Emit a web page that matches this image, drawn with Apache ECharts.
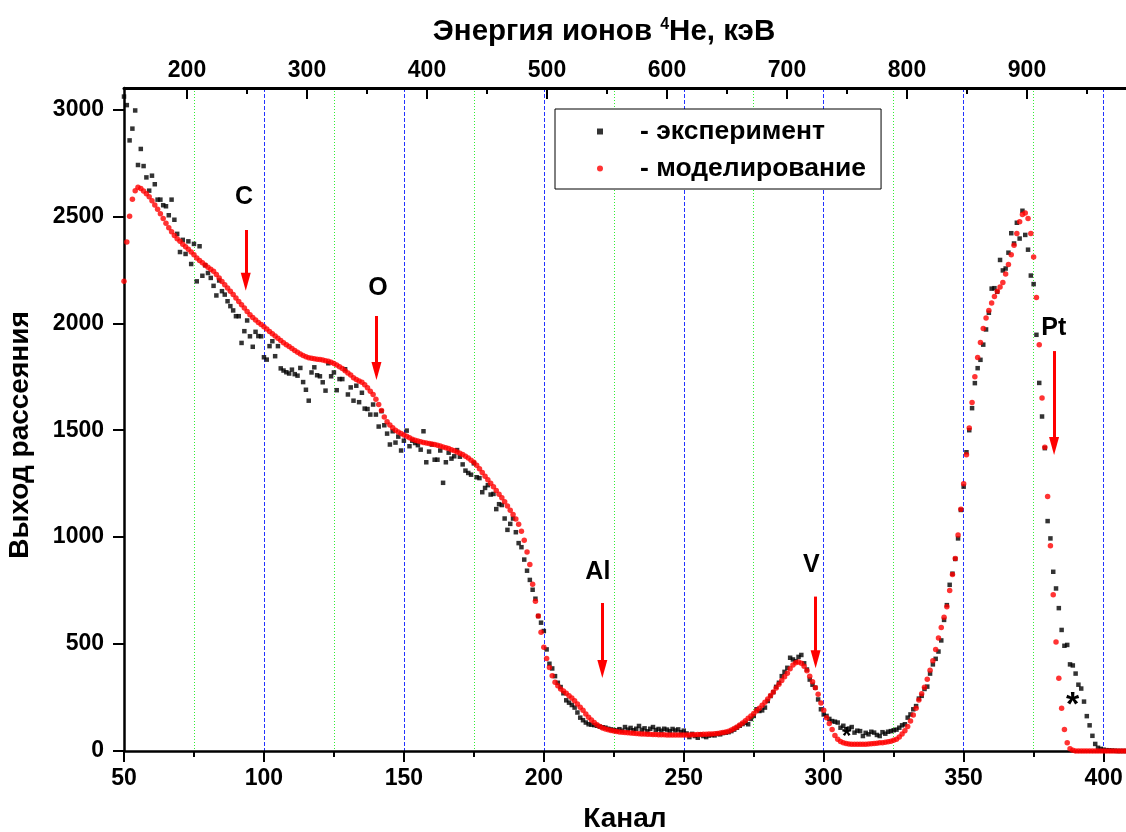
<!DOCTYPE html>
<html lang="ru">
<head>
    <meta charset="utf-8"/>
    <title>Спектр обратного рассеяния</title>
    <style>
        html, body { margin: 0; padding: 0; background: #fff; }
        #chart { width: 1126px; height: 832px; }
    </style>
</head>
<body>
<div id="chart"></div>

<script type="text/javascript" src="https://cdn.jsdelivr.net/npm/echarts@6.0.0/dist/echarts.min.js"></script>
<script type="text/javascript">
    // каналы 50..408, по одному значению на канал
    const channelStart = 50;
    const channelEnd = 408;

    // эксперимент (чёрные квадраты)
    const expCounts = [
        3060, 3020, 2855, 2910, 2995, 2740, 2815, 2735, 2682, 2620, // 50
        2690, 2650, 2578, 2578, 2552, 2547, 2505, 2578, 2484, 2418, // 60
        2333, 2390, 2324, 2383, 2277, 2371, 2196, 2360, 2222, 2271, // 70
        2235, 2212, 2175, 2130, 2200, 2150, 2134, 2103, 2080, 2060, // 80
        2033, 2033, 1908, 1963, 2013, 1939, 1890, 1960, 1940, 1939, // 90
        1841, 1830, 1893, 1916, 1846, 1893, 1789, 1779, 1771, 1765, // 100
        1783, 1762, 1755, 1791, 1725, 1689, 1638, 1770, 1794, 1757, // 110
        1752, 1724, 1685, 1813, 1752, 1770, 1687, 1739, 1739, 1785, // 120
        1667, 1700, 1638, 1708, 1631, 1675, 1601, 1599, 1573, 1620, // 130
        1573, 1517, 1589, 1523, 1484, 1433, 1495, 1442, 1470, 1405, // 140
        1451, 1498, 1425, 1451, 1440, 1430, 1409, 1495, 1350, 1400, // 150
        1433, 1362, 1362, 1405, 1254, 1350, 1395, 1367, 1378, 1407, // 160
        1376, 1340, 1311, 1300, 1292, 1345, 1280, 1276, 1210, 1230, // 170
        1243, 1199, 1202, 1131, 1154, 1150, 1087, 1034, 1062, 1087, // 180
        1023, 972, 953, 895, 843, 800, 754, 712, 631, 600,          // 190
        561, 475, 408, 386, 350, 319, 299, 270, 237, 226,           // 200
        215, 203, 180, 156, 144, 133, 125, 123, 121, 118,           // 210
        114, 111, 109, 104, 101, 98, 96, 102, 95, 112,              // 220
        100, 108, 97, 104, 117, 99, 106, 92, 104, 112,              // 230
        98, 103, 95, 104, 100, 93, 103, 96, 101, 88,                // 240
        95, 82, 65, 80, 70, 62, 77, 70, 65, 72,                     // 250
        75, 73, 80, 78, 84, 86, 88, 93, 100, 109,                   // 260
        118, 126, 132, 125, 150, 164, 195, 187, 190, 203,           // 270
        234, 257, 275, 300, 319, 350, 370, 389, 436, 428,           // 280
        420, 440, 449, 410, 381, 334, 310, 296, 241, 195,           // 290
        171, 164, 150, 140, 137, 133, 109, 118, 101, 105,           // 300
        112, 86, 95, 93, 70, 85, 78, 90, 86, 75,                    // 310
        70, 88, 81, 90, 93, 97, 100, 109, 120, 125,                 // 320
        156, 171, 195, 210, 245, 258, 290, 301, 362, 405,           // 330
        431, 465, 517, 613, 682, 777, 829, 898, 994, 1127,          // 340
        1236, 1397, 1500, 1603, 1720, 1790, 1829, 1900, 1971, 2049, // 350
        2162, 2164, 2147, 2296, 2247, 2256, 2330, 2421, 2373, 2470, // 360
        2396, 2526, 2413, 2344, 2223, 2183, 1946, 1721, 1564, 1416, // 370
        1075, 994, 838, 760, 668, 566, 492, 496, 405, 400,          // 380
        362, 310, 292, 231, 163, 120, 71, 33, 15, 10,               // 390
        6, 4, 3, 2, 1, 0, 0, 0, 0                                   // 400
    ];

    // моделирование (красные точки)
    const simCounts = [
        2196, 2380, 2500, 2580, 2620, 2636, 2630, 2618, 2605, 2592, // 50
        2573, 2553, 2533, 2512, 2490, 2468, 2447, 2428, 2410, 2395, // 60
        2383, 2370, 2358, 2346, 2333, 2320, 2305, 2293, 2283, 2272, // 70
        2262, 2252, 2243, 2228, 2212, 2195, 2180, 2165, 2150, 2134, // 80
        2118, 2102, 2086, 2071, 2055, 2040, 2027, 2015, 2004, 1994, // 90
        1984, 1973, 1962, 1951, 1940, 1930, 1919, 1909, 1900, 1891, // 100
        1882, 1873, 1864, 1856, 1849, 1843, 1839, 1836, 1834, 1832, // 110
        1830, 1828, 1825, 1822, 1818, 1812, 1805, 1797, 1788, 1778, // 120
        1767, 1758, 1745, 1737, 1730, 1724, 1712, 1698, 1682, 1667, // 130
        1645, 1620, 1592, 1562, 1540, 1524, 1512, 1500, 1492, 1484, // 140
        1478, 1472, 1465, 1458, 1453, 1449, 1446, 1443, 1440, 1438, // 150
        1436, 1433, 1430, 1426, 1422, 1418, 1414, 1409, 1404, 1398, // 160
        1392, 1386, 1378, 1370, 1360, 1350, 1336, 1320, 1302, 1285, // 170
        1268, 1252, 1236, 1218, 1200, 1184, 1165, 1146, 1126, 1106, // 180
        1085, 1060, 1028, 985, 930, 872, 780, 700, 631, 555,        // 190
        485, 433, 390, 352, 322, 305, 290, 280, 270, 258,           // 200
        248, 235, 220, 205, 190, 173, 158, 145, 133, 123,           // 210
        115, 108, 103, 99, 96, 93, 91, 89, 88, 86,                  // 220
        85, 84, 83, 82, 81, 80, 79, 78, 78, 77,                     // 230
        77, 76, 76, 76, 75, 75, 75, 75, 75, 75,                     // 240
        75, 75, 75, 76, 76, 77, 77, 78, 78, 79,                     // 250
        80, 81, 82, 84, 86, 89, 92, 98, 105, 112,                   // 260
        121, 131, 142, 153, 164, 175, 188, 200, 214, 228,           // 270
        243, 259, 276, 294, 312, 330, 347, 364, 384, 402,           // 280
        413, 416, 410, 396, 375, 350, 324, 296, 265, 225,           // 290
        190, 156, 128, 100, 72, 55, 44, 38, 35, 33,                 // 300
        32, 31, 31, 31, 31, 32, 33, 34, 35, 36,                     // 310
        38, 39, 41, 43, 46, 50, 55, 66, 80, 95,                     // 320
        115, 140, 168, 200, 238, 268, 298, 335, 378, 422,           // 330
        475, 528, 578, 625, 675, 750, 825, 900, 1010, 1130,         // 340
        1250, 1385, 1510, 1630, 1750, 1840, 1910, 1975, 2025, 2060, // 350
        2095, 2125, 2150, 2170, 2190, 2230, 2275, 2320, 2365, 2420, // 360
        2475, 2508, 2515, 2490, 2420, 2310, 2120, 1900, 1650, 1420, // 370
        1190, 960, 730, 510, 340, 200, 100, 38, 10, 3,              // 380
        0, 0, 0, 0, 0, 0, 0, 0, 0, 0,                               // 390
        0, 0, 0, 0, 0, 0, 0, 0, 0                                   // 400
    ];

    // оси
    const channelTicks = [50, 100, 150, 200, 250, 300, 350, 400];
    const channelMinorTicks = [75, 125, 175, 225, 275, 325, 375];
    const countTicks = [0, 500, 1000, 1500, 2000, 2500, 3000];
    const countMinorTicks = [250, 750, 1250, 1750, 2250, 2750];
    const countMax = 3100;
    // энергия на канал 50 и 408
    const energyMin = 147.5;
    const energyMax = 982.5;
    const energyTicks = [200, 300, 400, 500, 600, 700, 800, 900];
    const energyMinorTicks = [250, 350, 450, 550, 650, 750, 850, 950];

    // подписи элементов и стрелки
    const elementNames = ['C', 'O', 'Al', 'V', 'Pt'];
    const elementLabelCh = [92.9, 140.7, 219.3, 295.6, 382.2];
    const elementLabelY = [2590, 2165, 837, 870, 1978];
    const arrowCh = [93.5, 140.2, 220.9, 297.1, 382.3];
    const arrowFrom = [2436, 2034, 692, 722, 1870];
    const arrowTo = [2194, 1777, 383, 429, 1426];
    // звёздочки
    const starCh = [388.9, 308.2];
    const starY = [254, 90];

    const fontFamily = '"Liberation Sans", Arial, sans-serif';

    function toPoints(values) {
        return values.map(function (v, i) {
            return [channelStart + i, v];
        });
    }

    function plainNumber(v) {
        return String(v);
    }

    const arrowLines = arrowCh.map(function (ch, i) {
        return [
            {coord: [ch, arrowFrom[i]]},
            {coord: [ch, arrowTo[i]], symbolSize: [10, 18]}
        ];
    });

    const elementMarks = elementNames.map(function (n, i) {
        return {name: n, coord: [elementLabelCh[i], elementLabelY[i]]};
    });

    const starMarks = starCh.map(function (ch, i) {
        return {
            name: '*', coord: [ch, starY[i]],
            label: {fontSize: i === 0 ? 34 : 24, offset: [0, i === 0 ? 9 : 6]}
        };
    });

    const labelStyle = {color: '#000', fontFamily: fontFamily, fontWeight: 'bold', fontSize: 23, formatter: plainNumber};
    const nameStyle = {color: '#000', fontFamily: fontFamily, fontWeight: 'bold', fontSize: 28};

    let chart = echarts.init(document.getElementById('chart'));
    chart.setOption({
        animation: false,
        backgroundColor: '#fff',
        grid: {left: 124, right: 0, top: 88, bottom: 81, containLabel: false, outerBoundsMode: 'none'},
        legend: {
            orient: 'vertical',
            align: 'left',
            left: 555,
            top: 109,
            padding: [9, 15, 7, 42],
            itemGap: 10,
            itemWidth: 6,
            itemHeight: 6,
            borderColor: '#000',
            borderWidth: 1,
            backgroundColor: '#fff',
            formatter: '- {name}',
            textStyle: {
                color: '#000', fontFamily: fontFamily, fontWeight: 'bold', fontSize: 26.5,
                padding: [0, 0, 0, 32]
            },
            data: [
                {name: 'эксперимент', icon: 'rect'},
                {name: 'моделирование', icon: 'circle'}
            ]
        },
        xAxis: [
            {
                // канал, основные деления
                type: 'value', position: 'bottom',
                min: channelStart, max: channelEnd,
                name: 'Канал', nameLocation: 'middle', nameGap: 54,
                nameTextStyle: nameStyle,
                axisLine: {onZero: false, lineStyle: {color: '#000', width: 2.5}},
                axisTick: {customValues: channelTicks, length: 11, lineStyle: {color: '#000', width: 2}},
                axisLabel: Object.assign({customValues: channelTicks, margin: 16}, labelStyle),
                splitLine: {show: true, lineStyle: {color: '#2233ff', width: 1, type: [4, 2]}}
            },
            {
                // канал, промежуточные деления
                type: 'value', position: 'bottom',
                min: channelStart, max: channelEnd,
                axisLine: {show: false, onZero: false},
                axisTick: {customValues: channelMinorTicks, length: 6, lineStyle: {color: '#000', width: 2}},
                axisLabel: {show: false},
                splitLine: {show: true, lineStyle: {color: '#33ee33', width: 1, type: [1, 2]}}
            },
            {
                // энергия, верхняя ось
                type: 'value', position: 'top',
                min: energyMin, max: energyMax,
                name: '{a|Энергия ионов }{s|4}{a|He, кэВ}',
                nameLocation: 'middle', nameGap: 41,
                nameTextStyle: {
                    padding: [0, 42, 0, 0],
                    rich: {
                        a: {color: '#000', fontFamily: fontFamily, fontWeight: 'bold', fontSize: 29.5},
                        s: {color: '#000', fontFamily: fontFamily, fontWeight: 'bold', fontSize: 16, verticalAlign: 'top'}
                    }
                },
                axisLine: {onZero: false, lineStyle: {color: '#000', width: 3}},
                axisTick: {inside: true, customValues: energyTicks, length: 11, lineStyle: {color: '#000', width: 2}},
                axisLabel: Object.assign({customValues: energyTicks, margin: 6}, labelStyle),
                splitLine: {show: false}
            },
            {
                type: 'value', position: 'top',
                min: energyMin, max: energyMax,
                axisLine: {show: false, onZero: false},
                axisTick: {inside: true, customValues: energyMinorTicks, length: 6, lineStyle: {color: '#000', width: 2}},
                axisLabel: {show: false},
                splitLine: {show: false}
            }
        ],
        yAxis: [
            {
                type: 'value', min: 0, max: countMax,
                name: 'Выход рассеяния', nameLocation: 'middle', nameGap: 90,
                nameTextStyle: Object.assign({padding: [0, 31, 0, 0]}, nameStyle),
                axisLine: {show: true, onZero: false, lineStyle: {color: '#000', width: 2.5}},
                axisTick: {show: true, customValues: countTicks, length: 11, lineStyle: {color: '#000', width: 2}},
                axisLabel: Object.assign({customValues: countTicks, margin: 20}, labelStyle),
                splitLine: {show: false}
            },
            {
                type: 'value', min: 0, max: countMax,
                axisLine: {show: false, onZero: false},
                axisTick: {show: true, customValues: countMinorTicks, length: 6, lineStyle: {color: '#000', width: 2}},
                axisLabel: {show: false},
                splitLine: {show: false}
            }
        ],
        series: [
            {
                name: 'эксперимент',
                type: 'scatter',
                symbol: 'rect',
                symbolSize: 4.5,
                itemStyle: {color: '#000'},
                data: toPoints(expCounts),
                markPoint: {
                    silent: true,
                    symbol: 'rect',
                    symbolSize: 1,
                    itemStyle: {color: 'rgba(0,0,0,0)'},
                    label: {show: true, formatter: '{b}', color: '#000', fontFamily: fontFamily, fontWeight: 'bold'},
                    data: starMarks
                }
            },
            {
                name: 'моделирование',
                type: 'scatter',
                symbol: 'circle',
                symbolSize: 5.5,
                itemStyle: {color: '#ff0000'},
                data: toPoints(simCounts),
                markLine: {
                    silent: true,
                    symbol: ['none', 'triangle'],
                    symbolSize: 12,
                    label: {show: false},
                    lineStyle: {color: '#ff0000', width: 3, type: 'solid'},
                    data: arrowLines
                },
                markPoint: {
                    silent: true,
                    symbol: 'rect',
                    symbolSize: 1,
                    itemStyle: {color: 'rgba(0,0,0,0)'},
                    label: {
                        show: true, formatter: '{b}', color: '#000',
                        fontFamily: fontFamily, fontWeight: 'bold', fontSize: 25
                    },
                    data: elementMarks
                }
            }
        ]
    });
</script>
</body>
</html>
